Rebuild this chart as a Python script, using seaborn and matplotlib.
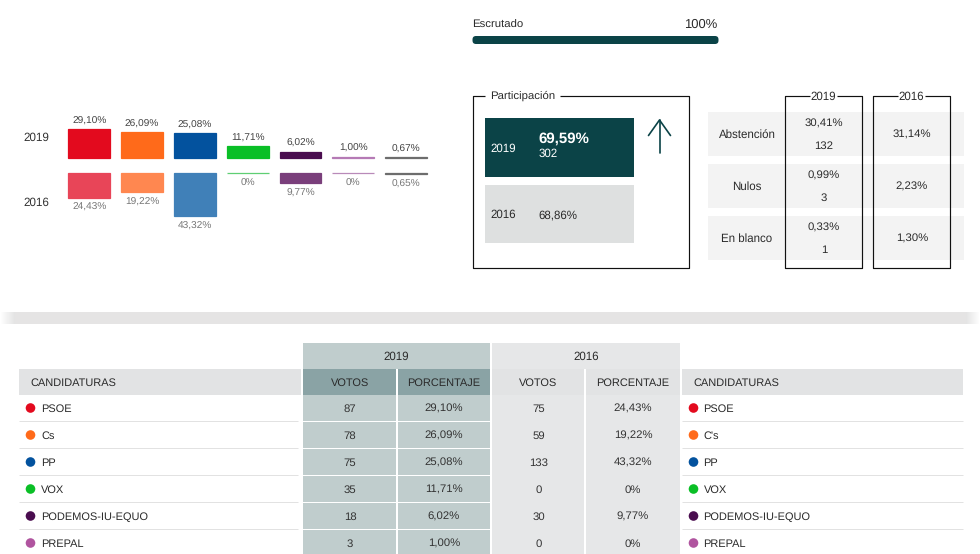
import matplotlib
matplotlib.use("Agg")
import matplotlib.pyplot as plt
from matplotlib.patches import Rectangle, FancyBboxPatch, Circle
import numpy as np
import seaborn as sns

sns.set_theme(style="white")
plt.rcParams["font.family"] = ["Liberation Sans", "DejaVu Sans"]
plt.rcParams["text.hinting"] = "no_hinting"

# ---------- data ----------
parties = ["PSOE", "Cs", "PP", "VOX", "PODEMOS-IU-EQUO", "PREPAL", "OTROS"]
parties_2016 = ["PSOE", "C's", "PP", "VOX", "PODEMOS-IU-EQUO", "PREPAL"]
pct_2019 = [29.10, 26.09, 25.08, 11.71, 6.02, 1.00, 0.67]
pct_2016 = [24.43, 19.22, 43.32, 0, 9.77, 0, 0.65]
labels_2019 = ["29,10%", "26,09%", "25,08%", "11,71%", "6,02%", "1,00%", "0,67%"]
labels_2016 = ["24,43%", "19,22%", "43,32%", "0%", "9,77%", "0%", "0,65%"]
colors_2019 = ["#e30a1e", "#ff6a1a", "#03529e", "#0abf26", "#4a0d4f", "#b57ab5", "#6d6d6d"]
colors_2016 = ["#e84558", "#ff8750", "#4080b8", "#5fcf73", "#7a3f7b", "#b98ab9", "#6d6d6d"]
dots = ["#e30a1e", "#ff6a1a", "#03529e", "#0abf26", "#4a0d4f", "#b0549f"]
votes_2019 = ["87", "78", "75", "35", "18", "3"]
votes_2016 = ["75", "59", "133", "0", "30", "0"]
rows_abst = ["Abstención", "Nulos", "En blanco"]
abst_2019 = ["30,41%", "0,99%", "0,33%"]
abst_n_2019 = ["132", "3", "1"]
abst_2016 = ["31,14%", "2,23%", "1,30%"]

W, H = 980, 554
DARK = "#0b4347"
TXT = "#2b2b2b"
fig = plt.figure(figsize=(W / 100, H / 100), dpi=100, facecolor="white")

def ax_px(x0, y0, x1, y1, **kw):
    return fig.add_axes([x0 / W, 1 - y1 / H, (x1 - x0) / W, (y1 - y0) / H], **kw)

# ---------- overlay in pixel space ----------
ov = ax_px(0, 0, W, H, zorder=0)
ov.set_xlim(0, W); ov.set_ylim(H, 0); ov.axis("off")

def rect(x0, y0, x1, y1, c, **kw):
    ov.add_patch(Rectangle((x0, y0), x1 - x0, y1 - y0, fc=c, ec="none", **kw))

def line(xs, ys, c="#111111", lw=0.85, **kw):
    ov.plot(xs, ys, color=c, lw=lw, solid_capstyle="butt", **kw)

def txt(x, y, s, size=8.2, c=TXT, ha="center", **kw):
    ov.text(x, y + 1, s, fontsize=size, color=c, ha=ha, va="center", **kw)

# ---------- bars ----------
step = 52.8
x0 = 89.3 - step / 2
x1 = x0 + 7 * step
top = ax_px(x0, 158 - 49.3, x1, 158, zorder=2, facecolor="none")
bot = ax_px(x0, 173.5, x1, 173.5 + 49.3, zorder=2, facecolor="none")
for ax, vals, cols, labs, col, sign, off in [
    (top, pct_2019, colors_2019, labels_2019, "#444444", 1, 6.2),
    (bot, pct_2016, colors_2016, labels_2016, "#777777", -1, 7.2),
]:
    sns.barplot(x=parties, y=vals, hue=parties, palette=cols, order=parties, hue_order=parties,
                width=0.795, dodge=False, legend=False, ax=ax, linewidth=0.9, saturation=1)
    for p in ax.patches:
        p.set_edgecolor(p.get_facecolor())
        p.set_clip_on(False)
    ax.set_xlim(-0.5, 6.5)
    ax.set_ylim((0, 50) if sign > 0 else (50, 0))
    ax.axis("off")
    for i, (v, l) in enumerate(zip(vals, labs)):
        ax.annotate(l, (i, v), xytext=(0, sign * off), textcoords="offset points",
                    ha="center", va="center", fontsize=7.3, color=col)

txt(23, 137, "2019", 8.4, "#333333", ha="left")
txt(23, 202, "2016", 8.4, "#333333", ha="left")

# ---------- progress ----------
txt(472.5, 24, "Escrutado", 8.2, ha="left")
txt(717.5, 23.5, "100%", 9.4, ha="right")
ov.add_patch(FancyBboxPatch((472.5, 36), 246, 8, boxstyle="round,pad=0,rounding_size=3.5",
                            fc=DARK, ec="none", mutation_aspect=1))

# ---------- participation ----------
line([485, 473, 473, 689, 689, 560], [96, 96, 268, 268, 96, 96])
txt(490, 95, "Participación", 8.2, ha="left")
rect(485, 118, 634, 177, DARK)
rect(485, 185, 634, 243, "#dee0e0")
txt(490, 148, "2019", 8.3, "white", ha="left")
txt(538.7, 138, "69,59%", 10.8, "white", ha="left", fontweight="bold")
txt(538.7, 153, "302", 8.3, "white", ha="left")
txt(490, 214, "2016", 8.3, ha="left")
txt(538.7, 214, "68,86%", 8.3, ha="left")
ov.plot([659.5, 659.5], [153, 120], color=DARK, lw=1.2)
ov.plot([648.5, 659.5, 670.5], [135.5, 120, 135.5], color=DARK, lw=1.2)

# ---------- abstention table ----------
row_tops = [112, 164, 216]
for y, name, a, n, b in zip(row_tops, rows_abst, abst_2019, abst_n_2019, abst_2016):
    rect(708, y, 964, y + 44, "#f3f3f3")
    txt(747, y + 22, name, 8.3)
    txt(824, y + 11, a, 8.2)
    txt(824, y + 33, n, 8.2)
    txt(912, y + 22, b, 8.2)
for a, b, label in [(785, 862, "2019"), (873, 950, "2016")]:
    c = (a + b) / 2
    line([c - 13.5, a, a, b, b, c + 13.5], [96, 96, 268, 268, 96, 96], zorder=4)
    txt(c, 95.5, label, 8.3)

# ---------- separator band ----------
rect(14, 312, 966, 324, "#e5e4e4")
grad = np.linspace(1, 0, 14)[None, :, None]
for ext, g in [((0, 14), grad[:, ::-1]), ((966, 980), grad)]:
    ov.imshow(np.ones((1, 14, 3)) * (0.898 * g + (1 - g)), extent=(ext[0], ext[1], 324, 312),
              aspect="auto", zorder=1)
ov.set_xlim(0, W); ov.set_ylim(H, 0)

# ---------- results table ----------
rect(303, 343, 490, 369, "#c0cdcd")
rect(492, 343, 680, 369, "#e6e7e8")
txt(396.5, 356, "2019", 8.3)
txt(586, 356, "2016", 8.3)
rect(19, 369, 301, 395, "#e2e3e4")
rect(682, 369, 963, 395, "#e2e3e4")
rect(303, 369, 396, 395, "#8aa3a5")
rect(398, 369, 490, 395, "#8aa3a5")
rect(492, 369, 584, 395, "#e2e3e4")
rect(586, 369, 680, 395, "#e2e3e4")
txt(30, 382, "CANDIDATURAS", 7.95, ha="left")
txt(693, 382, "CANDIDATURAS", 7.95, ha="left")
txt(350, 382, "VOTOS", 7.95)
txt(444, 382, "PORCENTAJE", 7.95)
txt(538.5, 382, "VOTOS", 7.95)
txt(633, 382, "PORCENTAJE", 7.95)

rect(492, 395, 584, H, "#e6e7e8")
rect(586, 395, 680, H, "#e6e7e8")
for i in range(6):
    y = 408 + i * 27
    rect(303, y - 13, 396, y + 13, "#c0cdcd")
    rect(398, y - 13, 490, y + 13, "#c0cdcd")
    if i < 5:
        line([19, 298], [y + 13, y + 13], c="#e2e2e2", lw=0.7)
        line([682, 963], [y + 13, y + 13], c="#e2e2e2", lw=0.7)
    ov.add_patch(Circle((30.5, y), 4.8, fc=dots[i], ec="none"))
    ov.add_patch(Circle((693.5, y), 4.8, fc=dots[i], ec="none"))
    txt(41, y, parties[i], 7.95, ha="left")
    txt(703.5, y, parties_2016[i], 7.95, ha="left")
    txt(350, y, votes_2019[i], 8.2, "#333333")
    txt(444, y, labels_2019[i], 8.2, "#333333")
    txt(538.5, y, votes_2016[i], 8.2, "#333333")
    txt(633, y, labels_2016[i], 8.2, "#333333")

fig.savefig("out.png", dpi=100, facecolor="white")
